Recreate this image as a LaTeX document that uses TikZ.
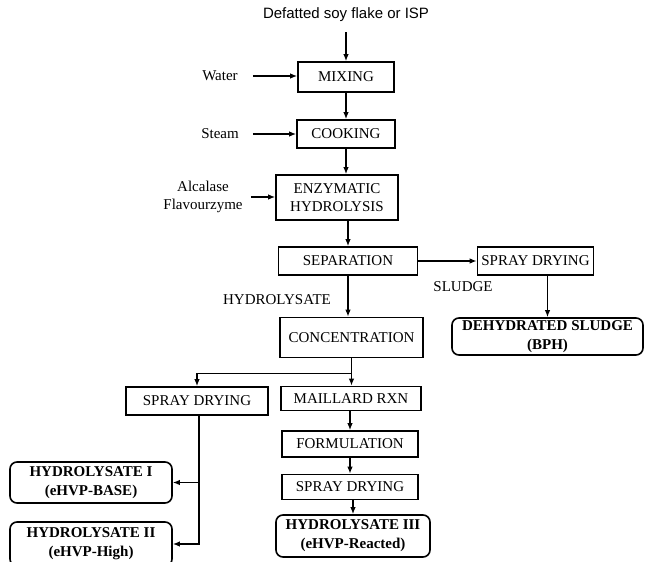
\documentclass[tikz,border=0pt]{standalone}
\usepackage{fontspec}
\setmainfont{Liberation Serif}
\newfontfamily\titlefont{Liberation Sans}
\usetikzlibrary{positioning, arrows.meta}

\begin{document}
\begin{tikzpicture}[x=1pt, y=-1pt, >={Latex[length=7pt, width=5.5pt]},
    box/.style={draw, line width=1.6pt, inner sep=1pt, align=center, font=\fontsize{15}{18}\selectfont},
    product/.style={box, rounded corners=7pt, font=\fontsize{15}{19}\selectfont\bfseries},
    lbl/.style={inner sep=0pt, align=center, font=\fontsize{15}{18}\selectfont},
    flow/.style={->, line width=1.6pt}]
    \useasboundingbox (0,0) rectangle (645,562);
    \clip (0,0) rectangle (645,562);

    % main line
    \node [lbl, font=\titlefont\fontsize{15}{18}\selectfont] (soy) at (346,15) {Defatted soy flake or ISP};
    \node [box, minimum width=96pt, minimum height=30pt] (mixing) at (346,77) {MIXING};
    \node [box, minimum width=98pt, minimum height=28pt] (cooking) at (346,134) {COOKING};
    \node [box, minimum width=122pt, minimum height=45pt] (enzymatic) at (337,197.5) {ENZYMATIC\\HYDROLYSIS};
    \node [box, minimum width=139pt, minimum height=28pt] (separation) at (348,261) {SEPARATION};
    \node [box, minimum width=143pt, minimum height=40pt] (concentration) at (351.5,337.5) {CONCENTRATION};

    % inputs
    \node [lbl] (water) at (220,76) {Water};
    \node [lbl] (steam) at (220,134) {Steam};
    \node [lbl] (enzymes) at (203,197) {Alcalase\\Flavourzyme};

    % sludge branch
    \node [box, minimum width=116pt, minimum height=28pt] (spraysludge) at (535.5,261) {SPRAY DRYING};
    \node [lbl] (sludge) at (463,287) {SLUDGE};
    \node [product, minimum width=191pt, minimum height=37pt] (bph) at (547.5,336.5) {DEHYDRATED SLUDGE\\(BPH)};
    \node [lbl] (hydrolysate) at (277,300) {HYDROLYSATE};

    % products
    \node [box, minimum width=142pt, minimum height=28pt] (spraybase) at (197,401) {SPRAY DRYING};
    \node [box, minimum width=140pt, minimum height=24pt] (maillard) at (351,398.5) {MAILLARD RXN};
    \node [box, minimum width=136pt, minimum height=26pt] (formulation) at (350,444) {FORMULATION};
    \node [box, minimum width=136pt, minimum height=25pt] (spraymaillard) at (350,487) {SPRAY DRYING};
    \node [product, minimum width=154pt, minimum height=42pt] (hvpiii) at (353,536) {HYDROLYSATE III\\(eHVP-Reacted)};
    \node [product, minimum width=162pt, minimum height=41pt] (hvpi) at (91,482.5) {HYDROLYSATE I\\(eHVP-BASE)};
    \node [product, minimum width=162pt, minimum height=44pt] (hvpii) at (91,544) {HYDROLYSATE II\\(eHVP-High)};

    \coordinate [below=15pt of concentration.south] (split);
    \coordinate (drop) at ([xshift=2pt]spraybase.south);

    \draw [flow, shorten <=10pt] (soy) -- (mixing);
    \draw [flow, shorten <=15pt] (water.east) -- (water.east -| mixing.west);
    \draw [flow] (mixing) -- (cooking);
    \draw [flow, shorten <=14pt] (steam.east) -- (steam.east -| cooking.west);
    \draw [flow] (cooking.south) -- (cooking.south |- enzymatic.north);
    \draw [flow, shorten <=8pt] (enzymes.east) -- (enzymes.east -| enzymatic.west);
    \draw [flow] (enzymatic.south -| separation) -- (separation.north);
    \draw [flow] (separation) -- (spraysludge);
    \draw [flow] (spraysludge.south -| bph) -- (bph.north);
    \draw [flow] (separation.south) -- (separation.south |- concentration.north);
    \draw [flow] (concentration.south) -- (concentration.south |- maillard.north);
    \draw [flow] (split) -| (spraybase.north);
    \draw [flow] (maillard.south -| formulation) -- (formulation.north);
    \draw [flow] (formulation) -- (spraymaillard);
    \draw [flow] (spraymaillard.south -| hvpiii) -- (hvpiii.north);
    \draw [flow] (drop) |- (hvpii.east);
    \draw [flow] (drop |- hvpi.east) -- (hvpi.east);
\end{tikzpicture}
\end{document}
